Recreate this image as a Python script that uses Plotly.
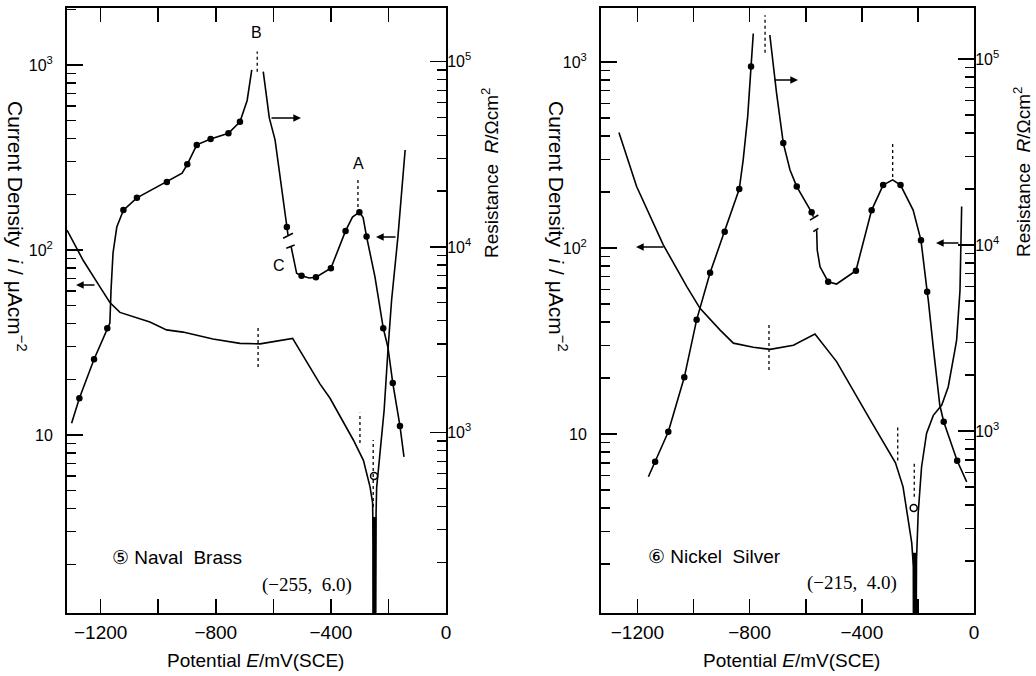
import plotly.graph_objects as go

# ---------------- data: panel 5 (Naval Brass) ----------------
nb_cath_E = [-1317, -1261, -1202, -1168, -1133, -1029, -971, -914, -810, -716, -646, -566, -533,
             -438, -403, -322, -287, -264, -255, -253, -252]
nb_cath_i = [128, 88, 63, 52, 46, 40.8, 37, 36, 33, 31.3, 31.1, 32.6, 33.3,
             18.9, 15.8, 9.4, 7.3, 5.25, 4.3, 2.5, 0.5]
nb_anod_E = [-246, -245, -243, -241, -229, -215, -201, -189, -167, -142]
nb_anod_i = [0.5, 2.5, 3.8, 5.2, 8.0, 13.6, 29.9, 53.7, 118, 347]
nb_res_E = [-1301, -1274, -1223, -1177, -1168, -1164, -1157, -1144, -1121, -1074, -1022, -970, -917,
            -899, -866, -818, -756, -716, -691, -675, None,
            -635, -629, -614, -594, -553, -549, None,
            -538, -526, -519, -502, -475, -452, -400, -349, -325, -301, -288, -276, -247, -218,
            -202, -185, -160, -146]
nb_res_R = [1123, 1530, 2480, 3650, 3890, 5870, 9290, 12800, 15800, 18400, 20300, 22400, 25000,
            27900, 35500, 38200, 41000, 47300, 61600, 90000, None,
            88100, 74700, 49600, 37800, 12800, 11600, None,
            10000, 8330, 7210, 7000, 6800, 6870, 7680, 12200, 14500, 15400, 14400, 11370, 6920, 3650,
            2890, 1850, 1084, 738]
nb_dot_E = [-1274, -1223, -1177, -1121, -1074, -970, -899, -866, -818, -756, -716, -553,
            -502, -452, -400, -349, -301, -276, -218, -185, -160]
nb_dot_R = [1530, 2480, 3650, 15800, 18400, 22400, 27900, 35500, 38200, 41000, 47300, 12800,
            7000, 6870, 7680, 12200, 15400, 11370, 3650, 1850, 1084]
nb_dash_res_E, nb_dash_res_lo, nb_dash_res_hi = [-656, -306], [88000, 16400], [113000, 23000]
nb_dash_cur_E, nb_dash_cur_lo, nb_dash_cur_hi = [-653, -299, -253], [23.3, 9.06, 4.08], [38.4, 13.2, 9.4]
nb_corr_E, nb_corr_i = [-250], [6.0]
nb_bar_E, nb_bar_lo, nb_bar_hi = [-249], [0.5], [3.6]
nb_brk_E0, nb_brk_E1 = [-566, -555], [-532, -526]
nb_brk_R0, nb_brk_R1 = [11140, 9840], [11860, 10250]

# ---------------- data: panel 6 (Nickel Silver) ----------------
ns_cath_E = [-1266, -1203, -1108, -1024, -977, -906, -858, -787, -727, -644, -567, -490, -371,
             -280, -253, -236, -222, -216, -215]
ns_cath_i = [417, 214, 104, 62, 47.4, 36.3, 30.8, 29.3, 28.5, 30, 34.5, 24.5, 12.0,
             7.0, 5.2, 3.6, 2.6, 1.93, 0.5]
ns_anod_E = [-207, -205, -199, -187, -169, -145, -115, -92, -68, -62, -50, -44]
ns_anod_i = [0.5, 2.1, 3.76, 6.65, 10.1, 12.6, 14.3, 17.9, 28.3, 32, 59, 167]
ns_res_E = [-1161, -1137, -1090, -1033, -989, -941, -889, -837, -823, -807, -795, -787, None,
            -728, -704, -680, -656, -632, -579, -573, None,
            -561, -559, -549, -520, -490, -421, -365, -324, -290, -262, -217, -189, -167, -163,
            -145, -122, -108, -60, -26]
ns_res_R = [568, 684, 991, 1945, 3960, 7100, 11800, 20000, 28700, 49000, 91000, 137000, None,
            134600, 65500, 35300, 25300, 20600, 15000, 14200, None,
            12000, 9400, 7640, 6350, 6170, 7280, 15400, 21000, 22400, 21000, 15400, 10600, 5610, 5060,
            2800, 1380, 1122, 692, 533]
ns_dot_E = [-1137, -1090, -1033, -989, -941, -889, -837, -795, -680, -632, -579, -520,
            -421, -365, -324, -262, -189, -167, -108, -60]
ns_dot_R = [684, 991, 1945, 3960, 7100, 11800, 20000, 91000, 35300, 20600, 15000, 6350,
            7280, 15400, 21000, 21000, 10600, 5610, 1122, 692]
ns_dash_res_E, ns_dash_res_lo, ns_dash_res_hi = [-745, -290], [108000, 23200], [172000, 35800]
ns_dash_cur_E, ns_dash_cur_lo, ns_dash_cur_hi = [-731, -272, -213], [22.1, 7.2, 4.6], [38.6, 11.2, 7.0]
ns_corr_E, ns_corr_i = [-215], [4.0]
ns_bar_E, ns_bar_lo, ns_bar_hi = [-211], [0.5], [2.3]
ns_brk_E0, ns_brk_E1 = [-585, -573], [-555, -555]
ns_brk_R0, ns_brk_R1 = [13610, 11790], [14490, 12300]

# ---------------- tick labels ----------------
x_tickvals = [-1200, -1000, -800, -600, -400, -200, 0]
x_ticktext = ["\u22121200", "", "\u2212800", "", "\u2212400", "", "0"]
cur_tickvals = [10, 100, 1000]
cur_ticktext = ["10", "10<sup>2</sup>", "10<sup>3</sup>"]
res_tickvals = [1000, 10000, 100000]
res_ticktext = ["10<sup>3</sup>", "10<sup>4</sup>", "10<sup>5</sup>"]

W, H = 1036, 676
BLACK = "black"
LW = 1.6


def fx(p):
    return p / W


def fy(p):
    return 1 - p / H


def seg(xs, lo, hi):
    X, Y = [], []
    for a, b, c in zip(xs, lo, hi):
        X += [a, a, None]
        Y += [b, c, None]
    return X, Y


def seg2(x0, x1, y0, y1):
    X, Y = [], []
    for a, b, c, d in zip(x0, x1, y0, y1):
        X += [a, b, None]
        Y += [c, d, None]
    return X, Y


fig = go.Figure()


def line(x, y, xa, ya, width=LW, dash=None):
    fig.add_trace(go.Scatter(x=x, y=y, mode="lines", xaxis=xa, yaxis=ya,
                             line=dict(color=BLACK, width=width, dash=dash),
                             connectgaps=False, showlegend=False, hoverinfo="skip"))


def dots(x, y, xa, ya, symbol="circle", size=5):
    fig.add_trace(go.Scatter(x=x, y=y, mode="markers", xaxis=xa, yaxis=ya,
                             marker=dict(color=BLACK, size=size, symbol=symbol,
                                         line=dict(color=BLACK, width=1.5)),
                             showlegend=False, hoverinfo="skip"))


for (xa, ya_c, ya_r, cE, ci, aE, ai, rE, rR, dE, dR, drE, drlo, drhi, dcE, dclo, dchi,
     coE, coI, bE0, bE1, bR0, bR1, barE, barlo, barhi) in [
    ("x", "y", "y2", nb_cath_E, nb_cath_i, nb_anod_E, nb_anod_i, nb_res_E, nb_res_R,
     nb_dot_E, nb_dot_R, nb_dash_res_E, nb_dash_res_lo, nb_dash_res_hi,
     nb_dash_cur_E, nb_dash_cur_lo, nb_dash_cur_hi, nb_corr_E, nb_corr_i,
     nb_brk_E0, nb_brk_E1, nb_brk_R0, nb_brk_R1, nb_bar_E, nb_bar_lo, nb_bar_hi),
    ("x2", "y3", "y4", ns_cath_E, ns_cath_i, ns_anod_E, ns_anod_i, ns_res_E, ns_res_R,
     ns_dot_E, ns_dot_R, ns_dash_res_E, ns_dash_res_lo, ns_dash_res_hi,
     ns_dash_cur_E, ns_dash_cur_lo, ns_dash_cur_hi, ns_corr_E, ns_corr_i,
     ns_brk_E0, ns_brk_E1, ns_brk_R0, ns_brk_R1, ns_bar_E, ns_bar_lo, ns_bar_hi),
]:
    line(cE, ci, xa, ya_c)
    line(aE, ai, xa, ya_c)
    X, Y = seg(barE, barlo, barhi)
    line(X, Y, xa, ya_c, width=4)
    line(rE, rR, xa, ya_r)
    dots(dE, dR, xa, ya_r)
    X, Y = seg(drE, drlo, drhi)
    line(X, Y, xa, ya_r, width=1.3, dash="3px,3px")
    X, Y = seg(dcE, dclo, dchi)
    line(X, Y, xa, ya_c, width=1.3, dash="3px,3px")
    dots(coE, coI, xa, ya_c, symbol="circle-open", size=7)
    X, Y = seg2(bE0, bE1, bR0, bR1)
    line(X, Y, xa, ya_r, width=1.6)

SANS = "Liberation Sans, Arial, sans-serif"
SERIF = "Liberation Serif, Times New Roman, serif"
TICKFONT_X = dict(family=SANS, size=19, color=BLACK)
TICKFONT_Y = dict(family=SANS, size=16, color=BLACK)


def minor_vals(lo_dec, hi_dec, lo, hi):
    out = []
    for d in range(lo_dec, hi_dec + 1):
        for m in range(2, 10):
            v = m * 10 ** d
            if lo < v < hi:
                out.append(v)
    return out


def xaxis(domain, rng, anchor):
    return dict(domain=domain, range=rng, anchor=anchor, showline=True, linecolor=BLACK,
                linewidth=2, mirror="ticks", ticks="inside", ticklen=14, tickwidth=1.6,
                tickcolor=BLACK, tickvals=x_tickvals, ticktext=x_ticktext, tickfont=TICKFONT_X,
                showgrid=False, zeroline=False, automargin=False, ticklabelstandoff=1,
                fixedrange=True)


def yaxis(rng, anchor, side, vals, text, overlaying=None, domain=None, standoff=10):
    lo, hi = 10 ** rng[0], 10 ** rng[1]
    d = dict(type="log", range=rng, anchor=anchor, side=side, showline=True, linecolor=BLACK,
             linewidth=2, ticks="inside", ticklen=16, tickwidth=1.6, tickcolor=BLACK,
             tickvals=vals, ticktext=text, tickfont=TICKFONT_Y, showgrid=False, zeroline=False,
             automargin=False, ticklabelstandoff=standoff, fixedrange=True,
             minor=dict(tickmode="array", tickvals=minor_vals(-1, 6, lo, hi), ticks="inside",
                        ticklen=9, tickwidth=1.3, tickcolor=BLACK, showgrid=False))
    if overlaying:
        d["overlaying"] = overlaying
    if domain:
        d["domain"] = domain
    return d


ydom = [fy(613), fy(8)]
fig.update_layout(
    width=W, height=H, margin=dict(l=0, r=0, t=0, b=0),
    paper_bgcolor="white", plot_bgcolor="white", showlegend=False,
    xaxis=xaxis([fx(67), fx(446)], [-1317, 0], "y"),
    yaxis=yaxis([0.038, 3.308], "x", "left", cur_tickvals, cur_ticktext, domain=ydom, standoff=9),
    yaxis2=yaxis([2.027, 5.288], "x", "right", res_tickvals, res_ticktext, overlaying="y", standoff=-4),
    xaxis2=xaxis([fx(601), fx(974)], [-1330, 0], "y3"),
    yaxis3=yaxis([0.038, 3.29], "x2", "left", cur_tickvals, cur_ticktext, domain=ydom, standoff=9),
    yaxis4=yaxis([2.022, 5.274], "x2", "right", res_tickvals, res_ticktext, overlaying="y3", standoff=-4),
)

ann = []


def text(x, y, s, size=17, family=SANS, angle=0, xanchor="center"):
    ann.append(dict(x=fx(x), y=fy(y), xref="paper", yref="paper", text=s, showarrow=False,
                    textangle=angle, xanchor=xanchor, yanchor="middle",
                    font=dict(family=family, size=size, color=BLACK)))


def arrow(tx, ty, hx, hy):
    ann.append(dict(x=fx(hx), y=fy(hy), xref="paper", yref="paper", text="", showarrow=True,
                    ax=tx - hx, ay=ty - hy, arrowhead=2, arrowsize=1.1, arrowwidth=1.4,
                    arrowcolor=BLACK, standoff=0))


# axis titles
xt = "Potential <i>E</i>/mV(SCE)"
lt = "Current Density  <i>i</i> / \u03bcAcm<sup>\u22122</sup>"
rt = "Resistance  <i>R</i>/\u03a9cm<sup>2</sup>"
text(255, 660, xt, size=19)
text(791, 660, xt, size=19)
text(17, 226, lt, size=21, angle=90)
text(558, 226, lt, size=21, angle=90)
text(490, 173, rt, size=19, angle=-90)
text(1022, 172, rt, size=19, angle=-90)

# panel labels
text(256, 33, "B", size=16)
text(358, 163, "A", size=16)
text(279, 265, "C", size=16)
text(110, 557, "\u2464 Naval  Brass", size=19, xanchor="left")
text(260, 585, "(\u2212255,  6.0)", size=19, family=SERIF, xanchor="left")
text(646, 556, "\u2465 Nickel  Silver", size=19, xanchor="left")
text(805, 583, "(\u2212215,  4.0)", size=19, family=SERIF, xanchor="left")

# arrows
arrow(270, 118, 301, 118)
arrow(397, 237, 376, 237)
arrow(96, 285, 76, 285)
arrow(773, 80, 798, 80)
arrow(665, 247, 636, 247)
arrow(960, 243, 936, 243)

fig.update_layout(annotations=ann)
fig.write_html("out.html",
               config={"displayModeBar": False, "staticPlot": True},
               post_script="document.body.style.margin='0px';"
                           "document.body.style.overflow='hidden';")
